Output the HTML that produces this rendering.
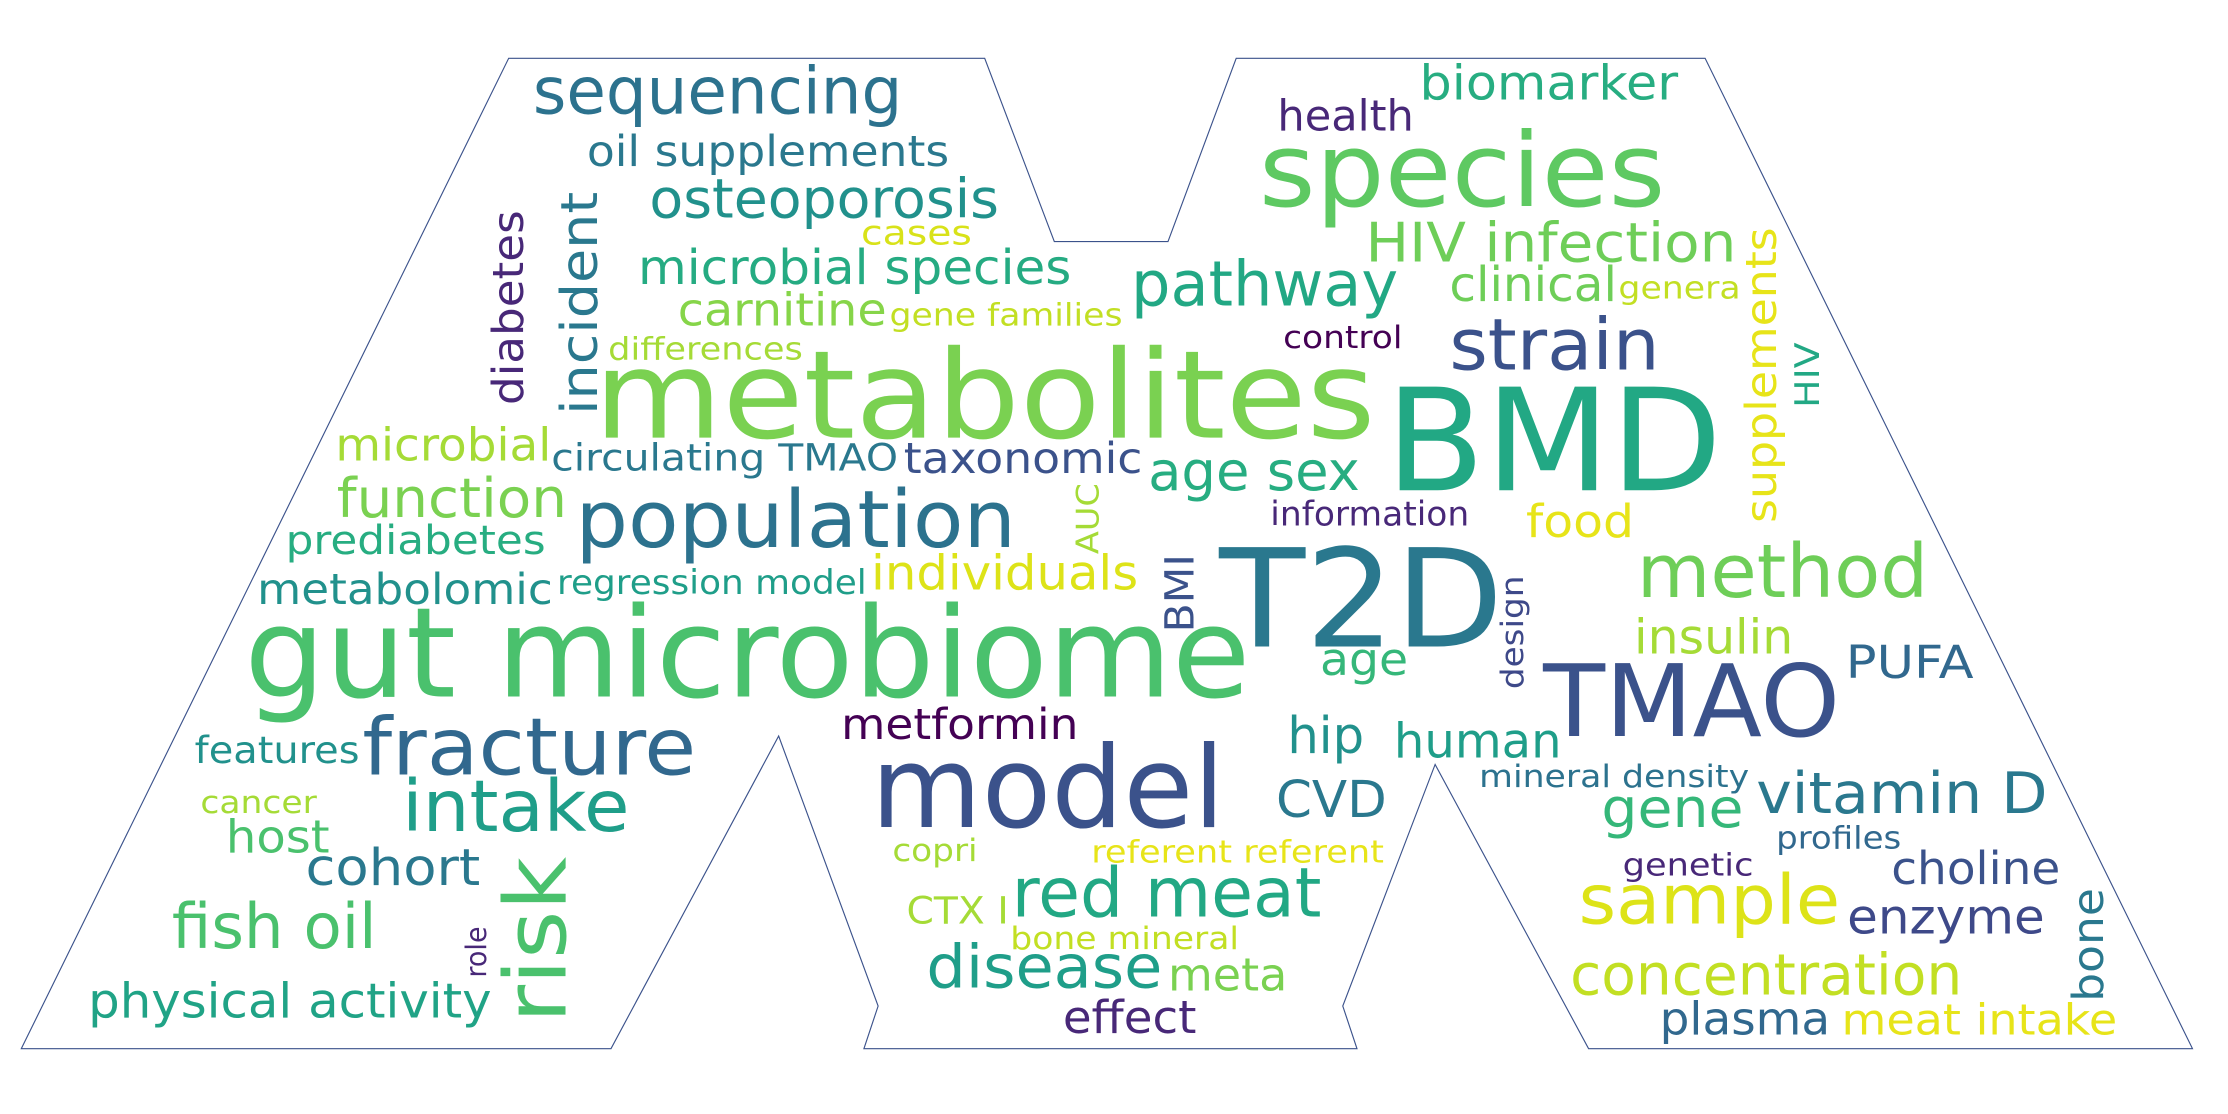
<!DOCTYPE html>
<html><head><meta charset="utf-8"><style>
html,body{margin:0;padding:0;background:#fff;}
svg{display:block;}
text{font-family:"DejaVu Sans","Liberation Sans",sans-serif;}
</style></head><body>
<svg width="2228" height="1114" viewBox="0 0 1568 784" preserveAspectRatio="none" xmlns="http://www.w3.org/2000/svg">
<rect width="1568" height="784" fill="#fff"/>
<path d="M15,738 L358,41 L693,41 L742,170 L822,170 L870,41 L1200,41 L1543,738 L1118,738 L1010,538 L945,708 L955,738 L608,738 L618,708 L548,518 L430,738 Z" fill="#fff" stroke="#3b528b" stroke-width="0.8"/>
<g id="words"></g>
</svg>
<script>
// word, x, y, fontSize, color, rotate, width
const words = [
["sequencing",375,80,46,"#2c728e",0,260],
["oil supplements",413,117,30,"#2a788e",0,255],
["osteoporosis",457,153,38,"#21918c",0,246],
["cases",606,172,24,"#d8e219",0,78],
["microbial species",449,200,34,"#25ab82",0,305],
["carnitine",477,229,32,"#86d549",0,147],
["gene families",626,229,22,"#c2df23",0,164],
["differences",428,253,22,"#a5db36",0,137],
["metabolites",418,308,86,"#7ad151",0,550],
["microbial",236,324,32,"#a5db36",0,152],
["circulating TMAO",388,331,26,"#2a788e",0,244],
["taxonomic",636,333,30,"#3b528b",0,168],
["function",237,364,38,"#7ad151",0,162],
["population",405,385,56,"#2c728e",0,310],
["prediabetes",201,390,28,"#27ad81",0,183],
["metabolomic",181,425,30,"#21918c",0,208],
["regression model",392,418,24,"#1f9e89",0,218],
["individuals",613,415,34,"#dde318",0,188],
["gut microbiome",172,490,88,"#4ac16d",0,708],
["features",137,537,26,"#21918c",0,116],
["fracture",255,545,56,"#31688e",0,235],
["intake",283,585,50,"#1f9e89",0,160],
["cancer",141,572,22,"#a5db36",0,82],
["host",159,600,32,"#4ac16d",0,73],
["cohort",215,623,36,"#2a788e",0,123],
["fish oil",121,667,44,"#4ac16d",0,144],
["physical activity",62,716,34,"#20a386",0,284],
["metformin",592,520,30,"#440154",0,167],
["model",613,582,80,"#3b528b",0,249],
["copri",628,606,22,"#a5db36",0,60],
["referent referent",768,607,22,"#e7e419",0,206],
["CTX I",638,650,26,"#a5db36",0,72],
["red meat",712,645,48,"#22a884",0,218],
["bone mineral",711,668,22,"#c2df23",0,161],
["disease",652,695,42,"#1f9e89",0,166],
["meta",822,697,32,"#7ad151",0,84],
["effect",748,727,32,"#482878",0,94],
["T2D",858,455,96,"#2a788e",0,200],
["age",929,475,32,"#35b779",0,62],
["hip",906,530,36,"#21918c",0,54],
["human",981,533,34,"#1f9e89",0,118],
["CVD",898,575,36,"#2a788e",0,78],
["health",899,92,30,"#482878",0,96],
["biomarker",999,70,34,"#27ad81",0,182],
["species",886,145,72,"#5ec962",0,286],
["HIV infection",961,184,38,"#6ece58",0,261],
["pathway",796,215,44,"#22a884",0,188],
["clinical",1020,212,34,"#6ece58",0,118],
["genera",1139,210,22,"#c2df23",0,86],
["control",903,245,22,"#440154",0,84],
["strain",1020,260,50,"#3b528b",0,148],
["BMD",975,345,100,"#22a884",0,237],
["age sex",808,345,38,"#27ad81",0,149],
["information",894,370,24,"#482878",0,140],
["food",1074,378,32,"#e7e419",0,76],
["method",1152,420,52,"#6ece58",0,205],
["insulin",1150,460,34,"#a5db36",0,112],
["PUFA",1299,477,32,"#31688e",0,90],
["TMAO",1086,518,70,"#3b528b",0,209],
["mineral density",1041,554,22,"#2c728e",0,190],
["vitamin D",1236,572,40,"#2a788e",0,205],
["gene",1127,582,38,"#35b779",0,100],
["profiles",1250,597,22,"#31688e",0,88],
["genetic",1142,616,22,"#482878",0,92],
["choline",1331,622,32,"#3b528b",0,119],
["sample",1111,650,48,"#dde318",0,184],
["enzyme",1300,657,34,"#3e4989",0,139],
["concentration",1105,700,40,"#c2df23",0,276],
["plasma",1168,728,32,"#31688e",0,120],
["meat intake",1296,728,30,"#e7e419",0,194],
["diabetes",368,285,30,"#482878",-90,137],
["incident",420,292,36,"#2a788e",-90,157],
["AUC",773,390,22,"#a5db36",-90,50],
["BMI",840,445,28,"#3b528b",-90,55],
["design",1072,485,22,"#3e4989",-90,80],
["supplements",1250,368,30,"#e7e419",-90,208],
["HIV",1280,287,24,"#22a884",-90,46],
["role",342,688,20,"#482878",-90,36],
["risk",398,720,60,"#4ac16d",-90,117],
["bone",1480,705,30,"#2a788e",-90,80]
];
const g = document.getElementById('words');
const NS = "http://www.w3.org/2000/svg";
words.forEach(w => {
  const t = document.createElementNS(NS, 'text');
  t.textContent = w[0];
  t.setAttribute('x', w[1]);
  t.setAttribute('y', w[2]);
  t.setAttribute('font-size', w[3]);
  t.setAttribute('fill', w[4]);
  t.setAttribute('textLength', w[6]);
  t.setAttribute('lengthAdjust', 'spacingAndGlyphs');
  if (w[5]) t.setAttribute('transform', 'rotate(' + w[5] + ' ' + w[1] + ' ' + w[2] + ')');
  
  
  g.appendChild(t);
});
</script>
</body></html>
